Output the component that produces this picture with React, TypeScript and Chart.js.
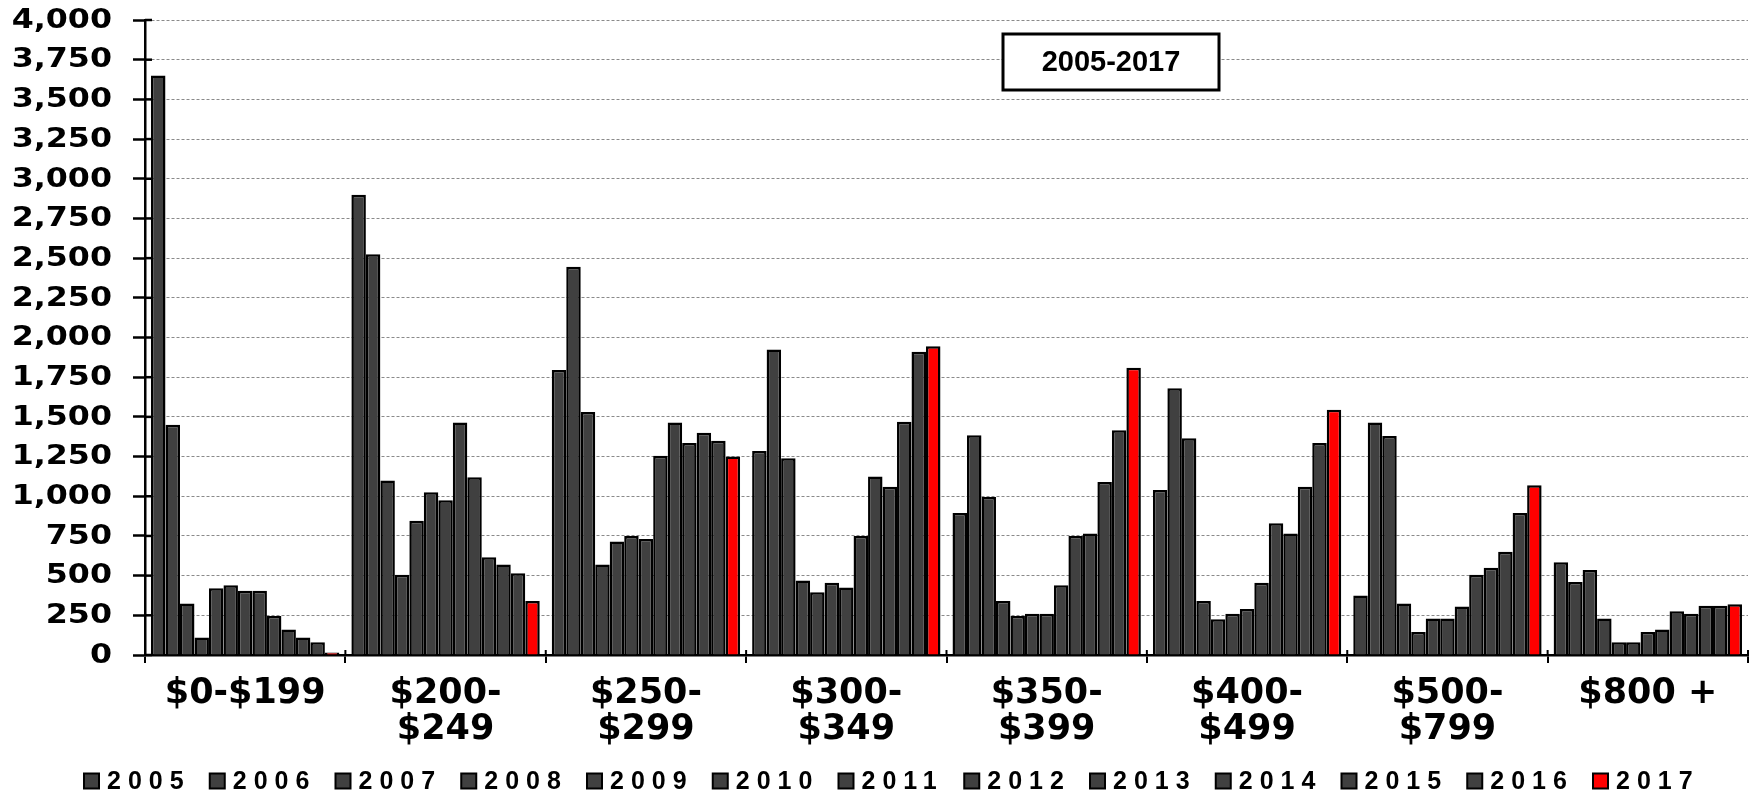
import React, { useEffect, useRef } from 'react';
import { Chart, registerables } from 'chart.js';

Chart.register(...registerables);

// ---- Data ----
const categories: (string | string[])[] = [
  '$0-$199',
  ['$200-', '$249'],
  ['$250-', '$299'],
  ['$300-', '$349'],
  ['$350-', '$399'],
  ['$400-', '$499'],
  ['$500-', '$799'],
  '$800 +',
];

const years = ['2005', '2006', '2007', '2008', '2009', '2010', '2011', '2012', '2013', '2014', '2015', '2016', '2017'];

const s2005 = [3650, 2900, 1795, 1285, 895, 1040, 375, 585];
const s2006 = [1450, 2525, 2445, 1925, 1385, 1680, 1465, 460];
const s2007 = [325, 1100, 1530, 1240, 995, 1365, 1380, 535];
const s2008 = [110, 505, 570, 470, 340, 340, 325, 230];
const s2009 = [420, 845, 715, 395, 245, 225, 145, 80];
const s2010 = [440, 1025, 750, 455, 260, 260, 230, 80];
const s2011 = [405, 975, 730, 425, 260, 290, 230, 145];
const s2012 = [405, 1465, 1255, 750, 440, 455, 305, 160];
const s2013 = [245, 1120, 1465, 1125, 750, 830, 505, 275];
const s2014 = [160, 615, 1335, 1060, 765, 765, 550, 260];
const s2015 = [110, 570, 1400, 1470, 1090, 1060, 650, 310];
const s2016 = [80, 515, 1350, 1910, 1415, 1335, 895, 310];
const s2017 = [15, 340, 1250, 1945, 1810, 1545, 1070, 320];

const seriesValues = [s2005, s2006, s2007, s2008, s2009, s2010, s2011, s2012, s2013, s2014, s2015, s2016, s2017];

const yMin = 0;
const yMax = 4000;
const yStep = 250;
const titleText = '2005-2017';

// ---- Styles ----
const DARK = '#404040';
const RED = '#FF0000';

const fmt = (v: number) => Number(v).toLocaleString('en-US');

const crossTicks = {
  id: 'crossTicks',
  beforeDatasetsDraw(chart: any) {
    const { ctx, scales, chartArea } = chart;
    const x = scales.x;
    const y = scales.y;
    ctx.save();
    ctx.strokeStyle = '#000';
    ctx.lineWidth = 2.5;
    y.ticks.forEach((_t: any, i: number) => {
      const py = y.getPixelForTick(i);
      ctx.beginPath();
      ctx.moveTo(chartArea.left, py);
      ctx.lineTo(chartArea.left + 7, py);
      ctx.stroke();
    });
    ctx.lineWidth = 2;
    for (let i = 0; i <= categories.length; i++) {
      const px = x.getPixelForValue(i - 0.5);
      ctx.beginPath();
      ctx.moveTo(px, chartArea.bottom - 5);
      ctx.lineTo(px, chartArea.bottom);
      ctx.stroke();
    }
    ctx.restore();
  },
};

// y tick labels drawn from the scale's ticks, with the wide look of the original
const yLabels = {
  id: 'yLabels',
  afterDraw(chart: any) {
    const { ctx } = chart;
    const y = chart.scales.y;
    ctx.save();
    ctx.font = 'bold 26px "DejaVu Sans", Verdana, sans-serif';
    ctx.textAlign = 'right';
    ctx.textBaseline = 'middle';
    ctx.fillStyle = '#000';
    y.ticks.forEach((t: any, i: number) => {
      const py = y.getPixelForTick(i);
      ctx.save();
      ctx.translate(112, py + 1);
      ctx.scale(1.22, 1);
      ctx.fillText(fmt(t.value), 0, 0);
      ctx.restore();
    });
    ctx.restore();
  },
};

const titleBox = {
  id: 'titleBox',
  afterDraw(chart: any) {
    const { ctx } = chart;
    const bx = 1003, by = 34, bw = 216, bh = 56;
    ctx.save();
    ctx.fillStyle = '#fff';
    ctx.fillRect(bx, by, bw, bh);
    ctx.strokeStyle = '#000';
    ctx.lineWidth = 3;
    ctx.strokeRect(bx, by, bw, bh);
    ctx.fillStyle = '#000';
    ctx.font = 'bold 29px "Liberation Sans", Arial, sans-serif';
    ctx.textAlign = 'center';
    ctx.textBaseline = 'middle';
    ctx.fillText(titleText, bx + bw / 2, by + bh / 2 + 1);
    ctx.restore();
  },
};

const customLegend = {
  id: 'customLegend',
  afterDraw(chart: any) {
    const { ctx } = chart;
    const startX = 84;
    const step = 125.75;
    const cy = 781;
    const box = 15;
    ctx.save();
    ctx.font = 'bold 25px "Liberation Sans", Arial, sans-serif';
    (ctx as any).letterSpacing = '7px';
    ctx.textAlign = 'left';
    ctx.textBaseline = 'middle';
    chart.data.datasets.forEach((ds: any, i: number) => {
      const x = startX + i * step;
      ctx.fillStyle = ds.backgroundColor;
      ctx.fillRect(x, cy - box / 2, box, box);
      ctx.strokeStyle = '#000';
      ctx.lineWidth = 2;
      ctx.strokeRect(x, cy - box / 2, box, box);
      ctx.fillStyle = '#000';
      ctx.fillText(ds.label, x + box + 8, cy + 1);
    });
    ctx.restore();
  },
};

export default function App() {
  const ref = useRef<HTMLCanvasElement>(null);

  useEffect(() => {
    const canvas = ref.current;
    if (!canvas) return;
    const chart = new Chart(canvas, {
      type: 'bar',
      data: {
        labels: categories as any,
        datasets: years.map((yr, i) => ({
          label: yr,
          data: seriesValues[i],
          backgroundColor: i === years.length - 1 ? RED : DARK,
          borderColor: '#000',
          borderWidth: 2.5,
          barPercentage: 1,
          categoryPercentage: 0.94,
        })),
      },
      options: {
        animation: false,
        responsive: false,
        devicePixelRatio: 1,
        layout: { padding: { top: 20, right: 6, left: 0, bottom: 0 } },
        plugins: {
          legend: { display: false },
          tooltip: { enabled: false },
          title: { display: false },
        },
        scales: {
          x: {
            grid: {
              display: true,
              drawOnChartArea: false,
              drawTicks: true,
              tickLength: 8,
              color: '#000',
              lineWidth: 2,
              offset: true,
            },
            border: { display: true, color: '#000', width: 2.5 },
            ticks: {
              color: '#000',
              font: { family: '"DejaVu Sans", Verdana, sans-serif', weight: 'bold', size: 35, lineHeight: 1.03 },
              padding: 13,
              maxRotation: 0,
              minRotation: 0,
              autoSkip: false,
            },
            afterFit: (s: any) => {
              s.height = 139;
              s.paddingLeft = 0;
              s.paddingRight = 0;
            },
          },
          y: {
            min: yMin,
            max: yMax,
            grid: {
              color: '#8a8a8a',
              lineWidth: 1,
              tickColor: '#000',
              tickWidth: 2.5,
              tickLength: 12,
              tickBorderDash: [],
            },
            border: { display: true, color: '#000', width: 2.5, dash: [3, 2] },
            ticks: {
              display: false,
              stepSize: yStep,
              autoSkip: false,
            },
            afterFit: (s: any) => {
              s.width = 145;
              s.paddingTop = 0;
              s.paddingBottom = 0;
            },
          },
        },
      } as any,
      plugins: [crossTicks, yLabels, titleBox, customLegend],
    });
    return () => chart.destroy();
  }, []);

  return (
    <div style={{ position: 'absolute', left: 0, top: 0, width: 1754, height: 794, background: '#fff' }}>
      <canvas ref={ref} width={1754} height={794} style={{ display: 'block', width: 1754, height: 794 }} />
    </div>
  );
}
